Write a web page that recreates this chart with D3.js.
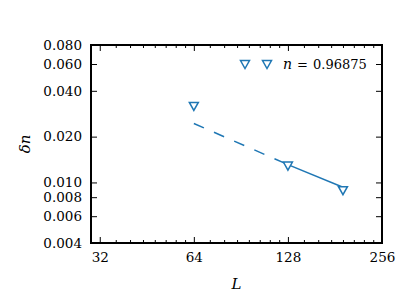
<!DOCTYPE html>
<html>
<head>
<meta charset="utf-8">
<script src="https://cdn.jsdelivr.net/npm/d3@7"></script>
<style>
  body { margin: 0; background: #fff; }
  svg { display: block; }
  .domain { display: none; }
  .tick line { stroke: #000; stroke-width: 1; }
</style>
</head>
<body>
<svg id="chart" width="415" height="305"></svg>
<script>
// data
const sizes = [64, 128, 192];
const deltaN = [0.0318, 0.0129, 0.0089];

// power-law fit drawn through the points (dashed part, then solid part)
const fitL = [64, 128, 192];
const fitN = [0.0244, 0.0131, 0.0093];

const xMajor = [32, 64, 128, 256];
const xMinor = [36, 40, 44, 48, 52, 56, 60, 72, 80, 88, 96, 104, 112, 120,
                144, 160, 176, 192, 208, 224, 240];
const yMajor = [0.004, 0.006, 0.008, 0.010, 0.020, 0.040, 0.060, 0.080];
const legendText = "0.96875";

const color = "#1f77b4";
const font = "DejaVu Serif";
const pLeft = 91, pRight = 382, pTop = 45, pBottom = 243;

const svg = d3.select("#chart");

const x = d3.scaleLog().base(2).domain([30, 256]).range([pLeft, pRight]);
const y = d3.scaleLog().domain([0.004, 0.08]).range([pBottom, pTop]);

// axes, ticks pointing inward
function labels(g) {
    g.attr("font-family", font).attr("font-size", 13.5);
    g.selectAll(".tick text").attr("fill", "#000");
}
svg.append("g")
    .attr("transform", `translate(0,${pBottom})`)
    .call(d3.axisBottom(x).tickValues(xMajor).tickFormat(d3.format("d")).tickSize(-6).tickPadding(9))
    .call(labels);
svg.append("g")
    .attr("transform", `translate(0,${pBottom})`)
    .call(d3.axisBottom(x).tickValues(xMinor).tickFormat("").tickSize(-3));
svg.append("g")
    .attr("transform", `translate(0,${pTop})`)
    .call(d3.axisTop(x).tickValues(xMajor).tickFormat("").tickSize(-6));
svg.append("g")
    .attr("transform", `translate(0,${pTop})`)
    .call(d3.axisTop(x).tickValues(xMinor).tickFormat("").tickSize(-3));

svg.append("g")
    .attr("transform", `translate(${pLeft},0)`)
    .call(d3.axisLeft(y).tickValues(yMajor).tickFormat(d3.format(".3f")).tickSize(-6).tickPadding(9))
    .call(labels);
svg.append("g")
    .attr("transform", `translate(${pRight},0)`)
    .call(d3.axisRight(y).tickValues(yMajor).tickFormat("").tickSize(-6));

// frame
svg.append("rect")
    .attr("x", pLeft).attr("y", pTop)
    .attr("width", pRight - pLeft).attr("height", pBottom - pTop)
    .attr("fill", "none").attr("stroke", "#000").attr("stroke-width", 2);

// fit line
const fitPts = fitL.map((d, i) => [x(d), y(fitN[i])]);
const line = d3.line();
svg.append("path")
    .attr("d", line(fitPts.slice(0, 2)))
    .attr("fill", "none").attr("stroke", color).attr("stroke-width", 1.5)
    .attr("stroke-dasharray", "11,11");
svg.append("path")
    .attr("d", line(fitPts.slice(1)))
    .attr("fill", "none").attr("stroke", color).attr("stroke-width", 1.5);

// triangle-down markers
const tri = "M-4.5,-3.5L4.5,-3.5L0,4.5Z";
svg.append("g").selectAll("path")
    .data(sizes)
    .enter().append("path")
    .attr("d", tri)
    .attr("transform", (d, i) => `translate(${x(d)},${y(deltaN[i])})`)
    .attr("fill", "#fff").attr("stroke", color).attr("stroke-width", 1.5);

// legend
const lg = svg.append("g");
[245, 267].forEach(cx => {
    lg.append("path").attr("d", tri)
        .attr("transform", `translate(${cx},64)`)
        .attr("fill", "#fff").attr("stroke", color).attr("stroke-width", 1.5);
});
const lt = lg.append("text")
    .attr("y", 68.5)
    .attr("font-family", font).attr("font-size", 13);
lt.append("tspan").attr("x", 283).attr("font-style", "italic").attr("font-size", 14).text("n");
lt.append("tspan").attr("x", 297).text("=");
lt.append("tspan").attr("x", 313).text(legendText);

// axis labels
svg.append("text")
    .attr("x", (pLeft + pRight) / 2).attr("y", 289)
    .attr("text-anchor", "middle")
    .attr("font-family", font).attr("font-size", 15).attr("font-style", "italic")
    .text("L");
svg.append("text")
    .attr("transform", `translate(30,${(pTop + pBottom) / 2}) rotate(-90)`)
    .attr("text-anchor", "middle")
    .attr("font-family", font).attr("font-size", 15).attr("font-style", "italic")
    .text("δn");
</script>
</body>
</html>
